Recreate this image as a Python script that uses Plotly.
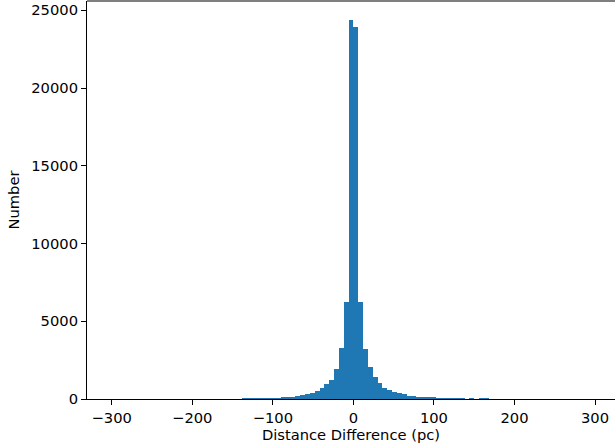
import numpy as np
import plotly.graph_objects as go

# Histogram of distance differences (pc): 100 bins of width 6 from -300 to 300
bin_start = -300
bin_width = 6
counts = [0] * 27 + [
    30, 35, 35, 40, 40, 45, 50, 55, 65, 90,          # -138 .. -78
    125, 170, 235, 290, 380, 500, 700, 960, 1250, 1950,  # -78 .. -18
    3280, 6270, 24380, 23900, 6260, 3220, 2040, 1440, 1020, 740,  # -18 .. 42
    570, 440, 355, 290, 225, 165, 140, 130, 115, 70,  # 42 .. 102
    55, 50, 45, 40, 35, 30, 0, 25, 0, 25,             # 102 .. 162
    20,                                               # 162 .. 168
] + [0] * 22

x_ticks = [-300, -200, -100, 0, 100, 200, 300]
y_ticks = [0, 5000, 10000, 15000, 20000, 25000]
x_title = "Distance Difference (pc)"
y_title = "Number"

edges = bin_start + bin_width * np.arange(len(counts))
centers = edges + bin_width / 2

font = dict(family="DejaVu Sans", size=14.7, color="#000000")

fig = go.Figure(
    go.Bar(
        x=centers,
        y=counts,
        width=bin_width,
        marker=dict(color="#1f77b4", line=dict(width=0)),
    )
)

fig.update_layout(
    width=615,
    height=448,
    margin=dict(l=87, r=0, t=1, b=49),
    paper_bgcolor="white",
    plot_bgcolor="white",
    bargap=0,
    showlegend=False,
    font=font,
    shapes=[
        dict(type="line", xref="paper", yref="paper", x0=0, x1=1, y0=1, y1=1,
             line=dict(color="black", width=1.1)),
    ],
)

fig.update_xaxes(
    range=[-330.7, 324.8],
    tickvals=x_ticks,
    ticks="outside",
    ticklen=5,
    tickwidth=1,
    tickcolor="black",
    showline=True,
    linecolor="black",
    linewidth=1.1,
    showgrid=False,
    zeroline=False,
    automargin=False,
    title=dict(text=x_title, font=font, standoff=5),
    tickfont=font,
)
fig.update_yaxes(
    range=[0, 25600],
    tickvals=y_ticks,
    tickformat="d",
    ticks="outside",
    ticklen=5,
    tickwidth=1,
    tickcolor="black",
    showline=True,
    linecolor="black",
    linewidth=1.1,
    showgrid=False,
    zeroline=False,
    automargin=False,
    title=dict(text=y_title, font=font, standoff=8),
    tickfont=font,
)

fig.write_html(
    "out.html",
    config={"displayModeBar": False},
    post_script="document.body.style.margin='0';document.body.style.overflow='hidden';",
)
